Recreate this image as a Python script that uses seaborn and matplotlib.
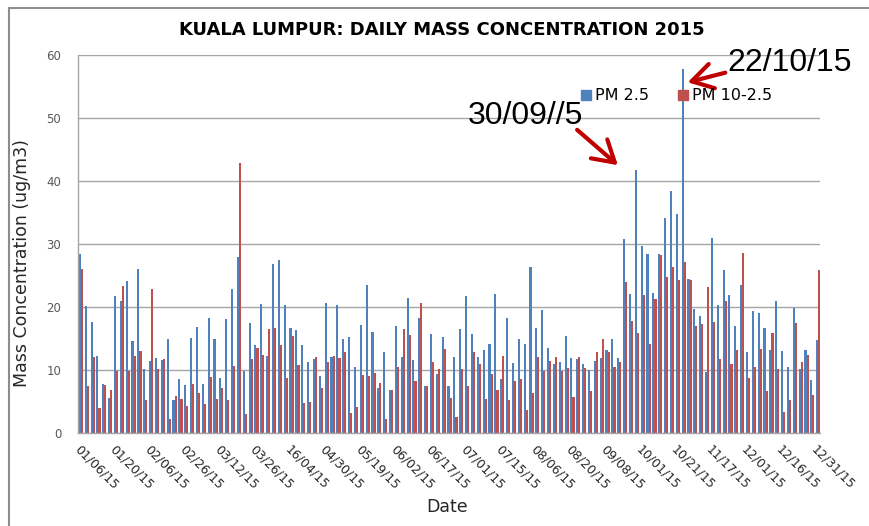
import pandas as pd
import matplotlib
matplotlib.use("Agg")
import matplotlib.pyplot as plt
import matplotlib.transforms as mtransforms
from matplotlib.patches import Patch, Rectangle
import seaborn as sns

# daily mass concentration (ug/m3)
pm25 = [28.4, 20.2, 17.6, 12.2, 7.7, 5.6, 21.8, 21.0, 24.2, 14.6,
        26.0, 10.1, 11.4, 11.9, 11.6, 14.9, 5.2, 8.6, 7.6, 15.1,
        16.8, 7.7, 18.3, 15.0, 8.7, 18.1, 22.8, 27.9, 9.9, 17.4,
        13.9, 20.5, 12.3, 26.8, 27.5, 20.3, 16.6, 16.3, 13.9, 11.3,
        11.7, 9.0, 20.7, 12.1, 20.3, 15.0, 15.2, 10.4, 17.2, 23.5,
        16.1, 7.1, 12.9, 6.9, 17.0, 12.1, 21.4, 11.6, 18.2, 7.5,
        15.7, 9.3, 15.3, 7.5, 12.1, 16.5, 21.8, 15.7, 12.1, 13.1,
        14.2, 22.0, 8.6, 18.2, 11.1, 15.0, 14.2, 26.3, 16.7, 19.6,
        13.5, 11.0, 11.2, 15.4, 11.9, 11.7, 10.9, 10.0, 11.4, 11.9,
        13.2, 14.9, 11.9, 30.8, 22.0, 41.7, 29.7, 28.4, 22.2, 28.4,
        34.2, 38.4, 34.8, 57.7, 24.4, 19.7, 18.6, 9.7, 31.0, 20.3,
        25.8, 21.9, 17.0, 23.5, 12.9, 19.4, 19.0, 16.7, 13.1, 21.0,
        13.0, 10.5, 19.9, 10.2, 13.1, 8.4, 14.8]

pm10 = [26.1, 7.4, 12.0, 4.0, 7.6, 6.8, 9.9, 23.3, 9.9, 12.2,
        13.0, 5.2, 22.8, 10.1, 11.7, 2.2, 5.9, 5.4, 4.3, 7.8,
        6.4, 4.6, 8.9, 5.4, 7.1, 5.2, 10.7, 42.9, 3.0, 11.7,
        13.5, 12.4, 16.5, 16.6, 13.9, 8.7, 15.4, 10.8, 4.7, 4.9,
        12.0, 7.1, 11.3, 12.2, 11.9, 12.9, 3.2, 4.1, 9.2, 9.0,
        9.6, 7.9, 2.3, 6.8, 10.5, 16.5, 15.6, 8.2, 20.6, 7.4,
        11.3, 10.2, 13.3, 5.6, 2.5, 10.2, 7.5, 12.8, 11.0, 5.4,
        9.4, 6.8, 12.3, 5.3, 8.2, 8.6, 3.7, 6.4, 12.1, 9.8,
        11.4, 12.1, 9.8, 10.3, 5.7, 12.1, 10.3, 6.7, 12.8, 14.9,
        12.8, 10.5, 11.2, 24.0, 17.7, 15.9, 21.9, 14.2, 21.2, 28.3,
        24.7, 26.3, 24.3, 27.1, 24.3, 17.0, 17.3, 23.2, 17.6, 11.7,
        20.9, 11.0, 13.1, 28.6, 8.8, 10.5, 13.3, 6.7, 15.9, 10.2,
        3.3, 5.2, 17.4, 11.2, 12.4, 6.0, 25.9]

date_labels = ["01/06/15", "01/20/15", "02/06/15", "02/26/15", "03/12/15",
               "03/26/15", "16/04/15", "04/30/15", "05/19/15", "06/02/15",
               "06/17/15", "07/01/15", "07/15/15", "08/06/15", "08/20/15",
               "09/08/15", "10/01/15", "10/21/15", "11/17/15", "12/01/15",
               "12/16/15", "12/31/15"]

series_names = ["PM 2.5", "PM 10-2.5"]
colors = ["#4F81BD", "#C0504D"]

n = len(pm25)
df = pd.DataFrame({
    "day": list(range(n)) * 2,
    "series": [series_names[0]] * n + [series_names[1]] * n,
    "value": pm25 + pm10,
})

sns.set_style("white")
plt.rcParams["font.family"] = ["DejaVu Sans"]
plt.rcParams["text.color"] = "black"

fig = plt.figure(figsize=(8.7, 5.26), dpi=100)
ax = fig.add_axes([78 / 870, 93 / 526, 742 / 870, 378 / 526])

sns.barplot(data=df, x="day", y="value", hue="series", palette=colors,
            errorbar=None, width=0.72, saturation=1, linewidth=0,
            legend=False, ax=ax)

ax.set_xlim(-0.5, 126.3)
ax.set_ylim(0, 60)
ax.set_yticks(range(0, 61, 10))
ax.yaxis.grid(True, color="#A6A6A6", lw=1)
ax.set_axisbelow(True)
for s in ["top", "right"]:
    ax.spines[s].set_visible(False)
for s in ["left", "bottom"]:
    ax.spines[s].set_color("#A6A6A6")
    ax.spines[s].set_linewidth(1)

ax.set_xticks(range(0, n, 6))
ax.set_xticklabels(date_labels, rotation=-45, ha="left", va="top",
                   rotation_mode="anchor", fontsize=9, color="#262626")
shift = mtransforms.ScaledTranslation(6 / 100, 0, fig.dpi_scale_trans)
for lab in ax.get_xticklabels():
    lab.set_transform(lab.get_transform() + shift)
ax.tick_params(axis="x", length=0, pad=7)
ax.tick_params(axis="y", length=0, pad=12, labelsize=8.5, labelcolor="#595959")

ax.set_xlabel("Date", fontsize=12.5)
ax.xaxis.set_label_coords(0.497, -0.172)
ax.set_ylabel("Mass Concentration (ug/m3)", fontsize=12.5)
ax.yaxis.set_label_coords(-0.064, 0.45)

fig.text(442 / 870, 1 - 30 / 526, "KUALA LUMPUR: DAILY MASS CONCENTRATION 2015",
         ha="center", va="center", fontsize=13, fontweight="bold")

handles = [Patch(color=c, label=l) for c, l in zip(colors, series_names)]
ax.legend(handles=handles, loc="center left", bbox_to_anchor=(573 / 870, 1 - 96 / 526),
          bbox_transform=fig.transFigure, ncol=2, frameon=False, fontsize=11.5,
          handlelength=0.6, handleheight=0.6, handletextpad=0.3, columnspacing=1.8,
          borderpad=0)

# call-outs for the two peak days
arrow = dict(arrowstyle="->, head_length=1.0, head_width=0.6", color="#C00000",
             lw=3, mutation_scale=15)
fig.text(468, 526 - 124, "30/09//5", fontsize=23, family="Liberation Sans",
         transform=None, va="baseline")
ax.annotate("", xy=(620, 526 - 167), xytext=(575, 526 - 128),
            xycoords="figure pixels", textcoords="figure pixels", arrowprops=arrow)
fig.text(727, 526 - 71, "22/10/15", fontsize=23, family="Liberation Sans",
         transform=None, va="baseline")
ax.annotate("", xy=(685, 526 - 83), xytext=(728, 526 - 72),
            xycoords="figure pixels", textcoords="figure pixels", arrowprops=arrow)

fig.add_artist(Rectangle((9 / 870, -0.1), 2, 1.1 - 8 / 526, transform=fig.transFigure,
                         fill=False, ec="#8C8C8C", lw=1.5))

fig.savefig("out.png", dpi=100)
